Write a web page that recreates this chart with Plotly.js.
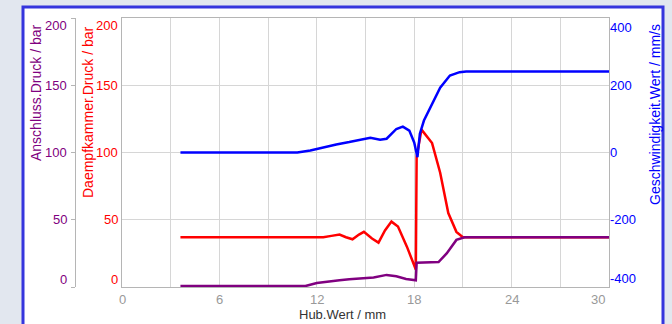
<!DOCTYPE html>
<html>
<head>
<meta charset="utf-8">
<script src="https://cdn.plot.ly/plotly-3.0.1.min.js"></script>
<style>html,body{margin:0;padding:0;background:#e2e7ef;}#chart{width:672px;height:324px;}</style>
</head>
<body>
<div id="chart"></div>
<script>
// Hub (mm) positions per series
const hubBlue = [3.6, 10.8, 11.6, 12.4, 13.2, 14.0, 14.6, 15.3, 15.9, 16.3, 16.9, 17.3, 17.7, 18.0, 18.2, 18.35, 18.6, 19.0, 19.6, 20.2, 20.8, 21.2, 30];
const geschwindigkeit = [0, 0, 6, 16, 24, 31, 36, 44, 38, 41, 70, 77, 65, 30, -14, 56, 95, 134, 193, 229, 239, 241, 241];

const hubRed = [3.6, 12.4, 12.9, 13.4, 13.8, 14.2, 14.6, 14.9, 15.4, 15.8, 16.2, 16.6, 17.0, 17.55, 18.1, 18.15, 18.45, 19.1, 19.6, 20.1, 20.6, 21.0, 21.3, 30];
const daempfkammer = [37, 37, 38, 39, 37, 35.5, 39, 41, 36, 33, 42, 48.6, 45, 30, 13, 97, 117, 107, 85, 55, 41, 37, 37, 37];

const hubPurple = [3.6, 11.3, 12.0, 12.6, 13.4, 14.0, 14.8, 15.5, 16.3, 16.9, 17.5, 18.1, 18.15, 19.5, 20.0, 20.6, 21.1, 30];
const anschluss = [0.7, 0.7, 3, 4, 5, 5.7, 6.5, 7, 9, 8, 6, 5, 18, 18.5, 25, 35, 37, 37];

const xTicks = [0, 6, 12, 18, 24, 30];
const pressureTicks = [0, 50, 100, 150, 200];
const speedTicks = [-400, -200, 0, 200, 400];

const W = 672, H = 324, T = 18, B = 37;
const ph = H - T - B;
const px = v => v / W;
const py = v => (H - B - v) / ph;

const FONT = 'Liberation Sans, Arial, sans-serif';
const PURPLE = '#800080', RED = '#ff0000', BLUE = '#0000ff';

const traces = [
  {x: hubRed, y: daempfkammer, yaxis: 'y', mode: 'lines', line: {color: RED, width: 2.5}},
  {x: hubBlue, y: geschwindigkeit, yaxis: 'y3', mode: 'lines', line: {color: BLUE, width: 2.5}},
  {x: hubPurple, y: anschluss, yaxis: 'y2', mode: 'lines', line: {color: PURPLE, width: 2.5}}
];

const ann = [];
pressureTicks.forEach(v => {
  const sh = v === 200 ? -7 : (v === 0 ? 8 : 0);
  ann.push({text: String(v), xref: 'paper', yref: 'y2', x: px(69), y: v, xanchor: 'right', yanchor: 'middle', yshift: sh, showarrow: false, font: {family: FONT, size: 13, color: PURPLE}});
  ann.push({text: String(v), xref: 'paper', yref: 'y', x: px(120), y: v, xanchor: 'right', yanchor: 'middle', yshift: sh, showarrow: false, font: {family: FONT, size: 13, color: RED}});
});
speedTicks.forEach(v => {
  const sh = v === 400 ? -9 : (v === -400 ? 9 : 0);
  ann.push({text: String(v), xref: 'paper', yref: 'y3', x: px(608), y: v, xanchor: 'left', yanchor: 'middle', yshift: sh, showarrow: false, font: {family: FONT, size: 13, color: BLUE}});
});
xTicks.forEach(v => {
  ann.push({text: String(v), xref: 'x', yref: 'paper', x: v, y: py(299), xanchor: 'center', yanchor: 'middle', xshift: v === 30 ? -11 : 0, showarrow: false, font: {family: FONT, size: 13, color: '#999999'}});
});
ann.push({text: 'Hub.Wert / mm', xref: 'paper', yref: 'paper', x: px(342), y: py(315), xanchor: 'center', yanchor: 'middle', showarrow: false, font: {family: FONT, size: 13, color: '#333333'}});
ann.push({text: 'Anschluss.Druck / bar', xref: 'paper', yref: 'paper', x: px(36), y: py(93), textangle: -90, xanchor: 'center', yanchor: 'middle', showarrow: false, font: {family: FONT, size: 14, color: PURPLE}});
ann.push({text: 'Daempfkammer.Druck / bar', xref: 'paper', yref: 'paper', x: px(88), y: py(113), textangle: -90, xanchor: 'center', yanchor: 'middle', showarrow: false, font: {family: FONT, size: 14, color: RED}});
ann.push({text: 'Geschwindigkeit.Wert / mm/s', xref: 'paper', yref: 'paper', x: px(655), y: py(115), textangle: -90, xanchor: 'center', yanchor: 'middle', showarrow: false, font: {family: FONT, size: 14, color: BLUE}});

const layout = {
  width: W, height: H,
  margin: {l: 0, r: 0, t: T, b: B},
  paper_bgcolor: '#e2e7ef',
  plot_bgcolor: '#ffffff',
  showlegend: false,
  font: {family: FONT},
  xaxis: {domain: [px(122), px(609)], range: [0, 30], dtick: 3, tick0: 0, showgrid: true, gridcolor: '#d6d6d6', gridwidth: 1,
          showline: true, linecolor: '#b5b5b5', mirror: true, zeroline: false, showticklabels: false, ticks: ''},
  yaxis: {range: [0, 200], dtick: 50, showgrid: true, gridcolor: '#d6d6d6', showline: true, linecolor: '#b5b5b5', mirror: true,
          zeroline: false, showticklabels: false, ticks: ''},
  yaxis2: {range: [0, 200], dtick: 50, overlaying: 'y', anchor: 'free', side: 'left', position: px(75), showgrid: false,
           showline: true, linecolor: '#b5b5b5', ticks: 'outside', ticklen: 4, tickcolor: '#b5b5b5', zeroline: false, showticklabels: false},
  yaxis3: {range: [-400, 400], dtick: 200, overlaying: 'y', anchor: 'x', side: 'right', showgrid: false, showline: false,
           zeroline: false, showticklabels: false, ticks: ''},
  shapes: [
    {type: 'rect', xref: 'paper', yref: 'paper', x0: px(23), x1: px(663), y0: py(335), y1: py(7), layer: 'below',
     fillcolor: '#ffffff', line: {color: '#3535dd', width: 3}}
  ],
  annotations: ann
};

Plotly.newPlot('chart', traces, layout, {displayModeBar: false, staticPlot: true});
</script>
</body>
</html>
